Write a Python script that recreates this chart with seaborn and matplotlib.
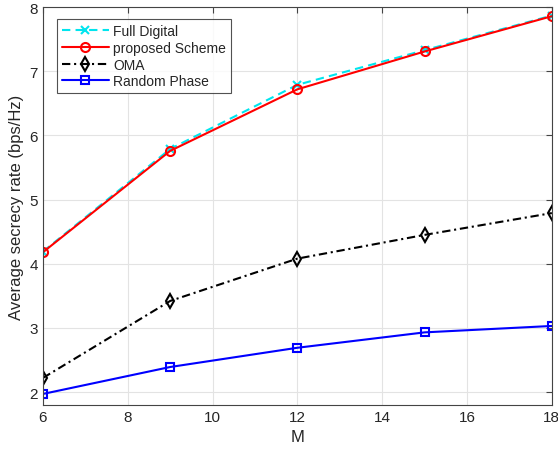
import numpy as np
import pandas as pd
import seaborn as sns
import matplotlib.pyplot as plt

M = [6, 9, 12, 15, 18]
full_digital = [4.19, 5.79, 6.79, 7.33, 7.87]
proposed = [4.18, 5.76, 6.72, 7.31, 7.86]
oma = [2.22, 3.42, 4.08, 4.45, 4.79]
random_phase = [1.97, 2.39, 2.69, 2.93, 3.03]

sns.set_style("white")
plt.rcParams['font.family'] = ['Liberation Sans', 'DejaVu Sans']

fig = plt.figure(figsize=(5.58, 4.56), dpi=100)
ax = fig.add_axes([0.077, 0.11, 0.912, 0.872])

# series: label, values, color, linestyle, marker, marker size
series = [
    ("Full Digital", full_digital, "#00e5ee", (0, (4, 2.5)), "x", 6),
    ("proposed Scheme", proposed, "red", "-", "o", 6.5),
    ("OMA", oma, "black", (0, (4, 1.8, 1, 1.8)), "d", 7),
    ("Random Phase", random_phase, "blue", "-", "s", 5.5),
]
for name, vals, c, ls, mk, ms in series:
    sns.lineplot(x=M, y=vals, ax=ax, color=c, linestyle=ls, marker=mk,
                 markersize=ms, markerfacecolor="none", markeredgecolor=c,
                 markeredgewidth=1.5, linewidth=1.5, label=name)

ax.set_xlim(6, 18)
ax.set_ylim(1.8, 8)
ax.set_xticks(range(6, 19, 2))
ax.set_yticks(range(2, 9))
ax.grid(True, color="#e3e3e3", linewidth=0.8)
ax.tick_params(direction="in", top=True, right=True, labelsize=11,
               length=4, color="#444444", labelcolor="#262626")
for s in ax.spines.values():
    s.set_color("#444444")
    s.set_linewidth(0.8)
ax.set_xlabel("M", fontsize=12, color="#262626")
ax.set_ylabel("Average secrecy rate (bps/Hz)", fontsize=12, color="#262626")

leg = ax.legend(loc="upper left", bbox_to_anchor=(0.027, 0.97), fontsize=10,
                frameon=True, fancybox=False, borderpad=0.35, labelspacing=0.2,
                handlelength=3.4, handletextpad=0.3, borderaxespad=0)
leg.get_frame().set_edgecolor("#262626")
leg.get_frame().set_linewidth(0.8)

fig.savefig("out.png", dpi=100)
